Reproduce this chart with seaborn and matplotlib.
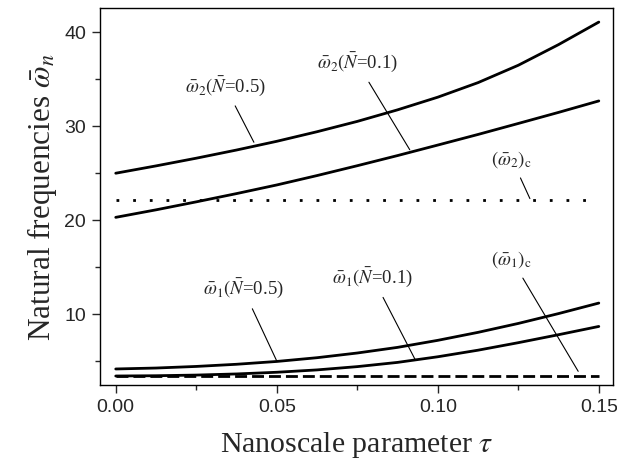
import matplotlib
matplotlib.use("Agg")
import matplotlib.pyplot as plt
import seaborn as sns

# nanoscale parameter tau
tau = [0.0, 0.0125, 0.025, 0.0375, 0.05, 0.0625, 0.075, 0.0875, 0.1, 0.1125, 0.125, 0.1375, 0.15]

# second mode frequencies
w2_N05 = [25.0, 25.78, 26.6, 27.47, 28.4, 29.42, 30.52, 31.75, 33.1, 34.65, 36.5, 38.7, 41.1]
w2_N01 = [20.3, 21.1, 21.95, 22.83, 23.75, 24.75, 25.8, 26.88, 28.0, 29.13, 30.3, 31.48, 32.7]
# first mode frequencies
w1_N05 = [4.15, 4.25, 4.42, 4.65, 4.95, 5.35, 5.85, 6.45, 7.2, 8.05, 9.0, 10.05, 11.17]
w1_N01 = [3.40, 3.43, 3.50, 3.62, 3.80, 4.05, 4.40, 4.85, 5.45, 6.15, 6.95, 7.80, 8.68]

# critical values
w2_c = 22.1
w1_c = 3.44

sns.set_theme(style='ticks')
plt.rcParams['font.family'] = ['Liberation Serif', 'DejaVu Serif']
plt.rcParams['mathtext.fontset'] = 'stix'

fig = plt.figure(figsize=(6.17, 4.70), dpi=100)
ax = fig.add_axes([0.162, 0.180, 0.832, 0.803])

for ys in [w2_N05, w2_N01, w1_N05, w1_N01]:
    sns.lineplot(x=tau, y=ys, color='black', lw=2.0, ax=ax)

ax.hlines(w2_c, tau[0], tau[-1], colors='black', lw=2.0, linestyles=(0, (1, 5)))
ax.hlines(w1_c, tau[0], tau[-1], colors='black', lw=2.0, linestyles=(0, (4.3, 1.8)))

ax.set_xlim(-0.0049, 0.1545)
ax.set_ylim(2.4, 42.6)
ax.set_xticks([0.0, 0.05, 0.10, 0.15])
ax.set_xticklabels(['0.00', '0.05', '0.10', '0.15'])
ax.set_yticks([10, 20, 30, 40])
ax.set_xticks([0.025, 0.075, 0.125], minor=True)
ax.set_yticks([5, 15, 25, 35], minor=True)
ax.tick_params(which='major', direction='out', length=6, width=1, labelsize=14, pad=4)
ax.tick_params(which='minor', direction='out', length=3.5, width=1)
for lab in ax.get_xticklabels() + ax.get_yticklabels():
    lab.set_family('Liberation Sans')
for sp in ax.spines.values():
    sp.set_visible(True)
    sp.set_linewidth(1.0)
    sp.set_color('black')

ax.set_xlabel(r'Nanoscale parameter $\tau$', fontsize=21.5, labelpad=10)
ax.set_ylabel(r'Natural frequencies $\bar{\omega}_n$', fontsize=22.5, labelpad=4)

# labels with leader lines
labels = [
    (r'$\bar{\omega}_2(\bar{N}$=0.5)', (0.0429, 28.3), (0.0339, 34.3)),
    (r'$\bar{\omega}_2(\bar{N}$=0.1)', (0.0913, 27.5), (0.0749, 36.8)),
    (r'$(\bar{\omega}_2)_{\rm c}$', (0.1286, 22.3), (0.123, 26.5)),
    (r'$\bar{\omega}_1(\bar{N}$=0.5)', (0.0500, 5.0), (0.0395, 12.7)),
    (r'$\bar{\omega}_1(\bar{N}$=0.1)', (0.0929, 5.2), (0.0798, 13.9)),
    (r'$(\bar{\omega}_1)_{\rm c}$', (0.1436, 3.9), (0.123, 15.8)),
]
for text, xy, xyt in labels:
    ax.annotate(text, xy=xy, xytext=xyt, fontsize=13.5, ha='center', va='center',
                arrowprops=dict(arrowstyle='-', lw=0.8, color='black',
                                shrinkA=4, shrinkB=0))

fig.savefig('out.png', dpi=100)
